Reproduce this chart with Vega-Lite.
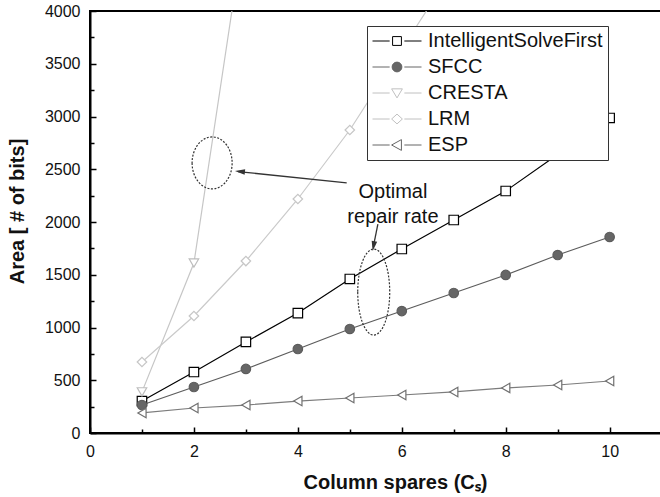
{
  "$schema": "https://vega.github.io/schema/vega-lite/v6.json",
  "width": 582,
  "height": 422,
  "autosize": "none",
  "padding": {"left": 90, "top": 11, "right": 0, "bottom": 64},
  "background": "white",
  "config": {
    "view": {"stroke": "#000", "strokeWidth": 2},
    "axis": {
      "grid": false,
      "domainColor": "#000",
      "domainWidth": 2,
      "tickColor": "#000",
      "tickWidth": 1.5,
      "labelFont": "Liberation Sans",
      "labelFontSize": 16,
      "labelColor": "#111",
      "titleFont": "Liberation Sans",
      "titleFontSize": 20,
      "titleFontWeight": "bold",
      "titleColor": "#111",
      "zindex": 1
    },
    "legend": {
      "labelFont": "Liberation Sans",
      "labelFontSize": 20,
      "labelColor": "#111",
      "labelLimit": 400
    }
  },
  "datasets": {
    "main": [
      {"cs": 1, "area": 303, "series": "IntelligentSolveFirst"},
      {"cs": 2, "area": 578, "series": "IntelligentSolveFirst"},
      {"cs": 3, "area": 863, "series": "IntelligentSolveFirst"},
      {"cs": 4, "area": 1137, "series": "IntelligentSolveFirst"},
      {"cs": 5, "area": 1460, "series": "IntelligentSolveFirst"},
      {"cs": 6, "area": 1744, "series": "IntelligentSolveFirst"},
      {"cs": 7, "area": 2019, "series": "IntelligentSolveFirst"},
      {"cs": 8, "area": 2294, "series": "IntelligentSolveFirst"},
      {"cs": 9, "area": 2640, "series": "IntelligentSolveFirst"},
      {"cs": 10, "area": 2986, "series": "IntelligentSolveFirst"},
      {"cs": 1, "area": 265, "series": "SFCC"},
      {"cs": 2, "area": 436, "series": "SFCC"},
      {"cs": 3, "area": 607, "series": "SFCC"},
      {"cs": 4, "area": 796, "series": "SFCC"},
      {"cs": 5, "area": 986, "series": "SFCC"},
      {"cs": 6, "area": 1156, "series": "SFCC"},
      {"cs": 7, "area": 1327, "series": "SFCC"},
      {"cs": 8, "area": 1498, "series": "SFCC"},
      {"cs": 9, "area": 1687, "series": "SFCC"},
      {"cs": 10, "area": 1858, "series": "SFCC"},
      {"cs": 1, "area": 390, "series": "CRESTA"},
      {"cs": 2, "area": 1611, "series": "CRESTA"},
      {"cs": 3, "area": 4880, "series": "CRESTA"},
      {"cs": 1, "area": 673, "series": "LRM"},
      {"cs": 2, "area": 1109, "series": "LRM"},
      {"cs": 3, "area": 1630, "series": "LRM"},
      {"cs": 4, "area": 2218, "series": "LRM"},
      {"cs": 5, "area": 2872, "series": "LRM"},
      {"cs": 6, "area": 3640, "series": "LRM"},
      {"cs": 7, "area": 4400, "series": "LRM"},
      {"cs": 1, "area": 190, "series": "ESP"},
      {"cs": 2, "area": 237, "series": "ESP"},
      {"cs": 3, "area": 265, "series": "ESP"},
      {"cs": 4, "area": 303, "series": "ESP"},
      {"cs": 5, "area": 332, "series": "ESP"},
      {"cs": 6, "area": 360, "series": "ESP"},
      {"cs": 7, "area": 389, "series": "ESP"},
      {"cs": 8, "area": 427, "series": "ESP"},
      {"cs": 9, "area": 455, "series": "ESP"},
      {"cs": 10, "area": 493, "series": "ESP"}
    ]
  },
  "encoding": {
    "x": {
      "field": "cs",
      "type": "quantitative",
      "scale": {"domain": [0, 11.2], "nice": false, "zero": false},
      "axis": {
        "title": "Column spares (Cₛ)",
        "values": [0, 1, 2, 3, 4, 5, 6, 7, 8, 9, 10, 11],
        "labelExpr": "datum.value % 2 === 0 ? datum.label : ''",
        "format": "d",
        "tickSize": {"condition": {"test": "datum.value % 2 === 0", "value": -6}, "value": -4},
        "labelPadding": 16,
        "labelFlush": false,
        "titleX": 305,
        "titleY": 49,
        "titleBaseline": "middle"
      }
    },
    "y": {
      "field": "area",
      "type": "quantitative",
      "scale": {"domain": [0, 4000], "nice": false},
      "axis": {
        "title": "Area [ # of bits]",
        "values": [0, 250, 500, 750, 1000, 1250, 1500, 1750, 2000, 2250, 2500, 2750, 3000, 3250, 3500, 3750, 4000],
        "labelExpr": "datum.value % 500 === 0 ? datum.label : ''",
        "format": "d",
        "tickSize": {"condition": {"test": "datum.value % 500 === 0", "value": -6}, "value": -4},
        "labelPadding": 16,
        "labelFlush": false,
        "titleX": -73,
        "titleY": 200,
        "titleBaseline": "middle",
        "titleAlign": "center"
      }
    }
  },
  "layer": [
    {
      "data": {"name": "main"},
      "mark": {"type": "line", "clip": true, "strokeWidth": 1.2},
      "encoding": {
        "stroke": {
          "field": "series", "type": "nominal",
          "scale": {"domain": ["IntelligentSolveFirst", "SFCC", "CRESTA", "LRM", "ESP"], "range": ["#000000", "#5c5c5c", "#c6c6c6", "#cacaca", "#7c7c7c"]},
          "legend": null
        }
      }
    },
    {
      "data": {"name": "main"},
      "mark": {"type": "point", "clip": true, "filled": true, "size": 90, "strokeWidth": 1.2, "opacity": 1},
      "encoding": {
        "stroke": {
          "field": "series", "type": "nominal",
          "scale": {"domain": ["IntelligentSolveFirst", "SFCC", "CRESTA", "LRM", "ESP"], "range": ["#000000", "#5c5c5c", "#bdbdbd", "#c6c6c6", "#707070"]},
          "legend": null
        },
        "fill": {
          "field": "series", "type": "nominal",
          "scale": {"domain": ["IntelligentSolveFirst", "SFCC", "CRESTA", "LRM", "ESP"], "range": ["#ffffff", "#666666", "#ffffff", "#ffffff", "#ffffff"]},
          "legend": null
        },
        "shape": {
          "field": "series", "type": "nominal",
          "scale": {"domain": ["IntelligentSolveFirst", "SFCC", "CRESTA", "LRM", "ESP"], "range": ["square", "circle", "triangle-down", "diamond", "triangle-left"]},
          "legend": null
        }
      }
    },
    {
      "data": {"name": "main"},
      "transform": [{"filter": "false"}],
      "mark": {"type": "point", "filled": true, "size": 2401, "strokeWidth": 1, "opacity": 1},
      "encoding": {
        "stroke": {
          "field": "series", "type": "nominal",
          "scale": {"domain": ["IntelligentSolveFirst", "SFCC", "CRESTA", "LRM", "ESP"], "range": ["#000000", "#666666", "#c0c0c0", "#c0c0c0", "#666666"]},
          "legend": {"title": null, "orient": "none", "legendX": 277, "legendY": 15, "symbolSize": 2401, "symbolStrokeWidth": 1, "labelOffset": 6, "padding": 5, "rowPadding": 6, "clipHeight": 20, "strokeColor": "#333", "fillColor": "#ffffff", "labelFontSize": 20, "labelLimit": 400}
        },
        "fill": {
          "field": "series", "type": "nominal",
          "scale": {"domain": ["IntelligentSolveFirst", "SFCC", "CRESTA", "LRM", "ESP"], "range": ["#ffffff", "#666666", "#ffffff", "#ffffff", "#ffffff"]},
          "legend": {"title": null, "orient": "none", "legendX": 277, "legendY": 15, "symbolSize": 2401, "symbolStrokeWidth": 1, "labelOffset": 6, "padding": 5, "rowPadding": 6, "clipHeight": 20, "strokeColor": "#333", "fillColor": "#ffffff", "labelFontSize": 20, "labelLimit": 400}
        },
        "shape": {
          "field": "series", "type": "nominal",
          "scale": {"domain": ["IntelligentSolveFirst", "SFCC", "CRESTA", "LRM", "ESP"], "range": [
            "M -1 0 L -0.3 0 M 0.3 0 L 1 0 M -0.18 -0.18 L 0.18 -0.18 L 0.18 0.18 L -0.18 0.18 Z",
            "M -1 0 L -0.3 0 M 0.3 0 L 1 0 M -0.2 0 A 0.2 0.2 0 1 0 0.2 0 A 0.2 0.2 0 1 0 -0.2 0 Z",
            "M -1 0 L -0.3 0 M 0.3 0 L 1 0 M -0.22 -0.17 L 0.22 -0.17 L 0 0.2 Z",
            "M -1 0 L -0.3 0 M 0.3 0 L 1 0 M -0.22 0 L 0 -0.2 L 0.22 0 L 0 0.2 Z",
            "M -1 0 L -0.3 0 M 0.3 0 L 1 0 M 0.18 -0.22 L 0.18 0.22 L -0.22 0 Z"
          ]},
          "legend": {"title": null, "orient": "none", "legendX": 277, "legendY": 15, "symbolSize": 2401, "symbolStrokeWidth": 1, "labelOffset": 6, "padding": 5, "rowPadding": 6, "clipHeight": 20, "strokeColor": "#333", "fillColor": "#ffffff", "labelFontSize": 20, "labelLimit": 400}
        }
      }
    },
    {
      "data": {"values": [{"cs": 2.35, "area": 2560}]},
      "mark": {"type": "point", "shape": "M -0.77 0 A 0.77 1 0 1 0 0.77 0 A 0.77 1 0 1 0 -0.77 0 Z", "size": 2704, "filled": false, "stroke": "#333", "strokeWidth": 1.2, "strokeDash": [2, 1.5], "opacity": 1}
    },
    {
      "data": {"values": [{"cs": 5.46, "area": 1336}]},
      "mark": {"type": "point", "shape": "M -0.372 0 A 0.372 1 0 1 0 0.372 0 A 0.372 1 0 1 0 -0.372 0 Z", "size": 7396, "filled": false, "stroke": "#333", "strokeWidth": 1.2, "strokeDash": [2, 1.5], "opacity": 1}
    },
    {
      "data": {"values": [
        {"cs": 4.94, "area": 2370, "cs2": 2.85, "area2": 2478},
        {"cs": 5.54, "area": 1981, "cs2": 5.45, "area2": 1760}
      ]},
      "mark": {"type": "rule", "color": "#333", "strokeWidth": 1.3},
      "encoding": {
        "x2": {"field": "cs2"},
        "y2": {"field": "area2"}
      }
    },
    {
      "data": {"values": [{"cs": 2.79, "area": 2483}]},
      "mark": {"type": "point", "shape": "M 0 0 L -1 -0.28 L -1 0.28 Z", "size": 400, "filled": true, "color": "#333", "angle": 186, "opacity": 1}
    },
    {
      "data": {"values": [{"cs": 5.44, "area": 1725}]},
      "mark": {"type": "point", "shape": "M 0 0 L -1 -0.28 L -1 0.28 Z", "size": 400, "filled": true, "color": "#333", "angle": 100, "opacity": 1}
    },
    {
      "data": {"values": [
        {"cs": 5.83, "area": 2285, "label": "Optimal"},
        {"cs": 5.83, "area": 2048, "label": "repair rate"}
      ]},
      "mark": {"type": "text", "font": "Liberation Sans", "fontSize": 20, "color": "#111", "align": "center", "baseline": "middle"},
      "encoding": {"text": {"field": "label"}}
    }
  ],
  "resolve": {"scale": {"shape": "independent", "stroke": "independent", "fill": "independent"}}
}
